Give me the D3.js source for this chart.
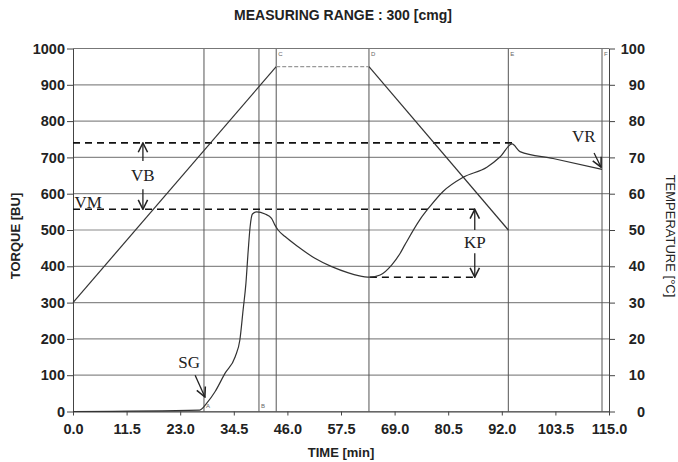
<!DOCTYPE html>
<html>
<head>
<meta charset="utf-8">
<script src="https://cdn.jsdelivr.net/npm/d3@7"></script>
<style>
  body { margin: 0; background: #fff; }
  svg { display: block; }
  .tick text { font-family: "Liberation Sans Narrow", "Arial Narrow", "Liberation Sans", sans-serif; font-weight: bold; font-size: 14.5px; fill: #222; }
  .axis-title { font-family: "Liberation Sans Narrow", "Arial Narrow", "Liberation Sans", sans-serif; font-weight: bold; fill: #222; }
  .mark-label { font-family: "Liberation Serif", "DejaVu Serif", serif; font-size: 17px; fill: #222; }
  .tiny { font-family: "Liberation Sans", sans-serif; font-size: 6px; fill: #666; }
</style>
</head>
<body>
<div id="chart"></div>
<script>
// tick values
const timeTicks = [0, 11.5, 23, 34.5, 46, 57.5, 69, 80.5, 92, 103.5, 115];
const torqueTicks = [0, 100, 200, 300, 400, 500, 600, 700, 800, 900, 1000];
const tempTicks = [0, 10, 20, 30, 40, 50, 60, 70, 80, 90, 100];

// viscosity (torque) curve
const torqueTime = [0, 27.2, 28.7, 30.5, 32.6, 34.8, 35.8, 36.5, 37.1, 37.6, 38.0, 38.5, 39.4, 41.2, 42.6, 43.3, 44.0, 45.5, 48.3, 51.9, 55.5, 59.1, 62.6, 63.7, 65.9, 68.4, 70.2, 71.2, 74.4, 76.6, 79.4, 83.7, 88.8, 91.6, 94.2, 95.9, 103.0, 113.5];
const torqueBU = [0, 4, 23, 55, 105, 151, 197, 280, 353, 445, 509, 544, 550, 544, 532, 514, 500, 482, 454, 422, 399, 382, 371, 370, 376, 404, 436, 459, 528, 565, 606, 645, 673, 701, 737, 716, 697, 667];

// temperature programme
const tempTime = [0, 43.6, 63.5, 93.4];
const tempC = [30, 95, 95, 50];

// vertical marker lines and their letters
const markerTimes = [28.1, 39.9, 43.6, 63.5, 93.4, 113.5];
const markerTop = ["", "", "C", "D", "E", "F"];
const markerBottom = ["A", "B", "", "", "", ""];

// characteristic levels [BU]
const levelVB = 740;
const levelVM = 557;
const levelKP = 370;
const timeVBEnd = 94.2;
const timeKP = 86.2;
const timeKPStart = 63.7;
const timeVB = 15.0;

const W = 678, H = 462;
const margin = { top: 48.5, right: 69, bottom: 50.5, left: 73 };

const svg = d3.select("#chart").append("svg")
    .attr("width", W)
    .attr("height", H);

const x = d3.scaleLinear().domain([0, 115]).range([margin.left, W - margin.right]);
const yL = d3.scaleLinear().domain([0, 1000]).range([H - margin.bottom, margin.top]);
const yR = d3.scaleLinear().domain([0, 100]).range([H - margin.bottom, margin.top]);

// arrow head
svg.append("defs").append("marker")
    .attr("id", "head")
    .attr("viewBox", "0 0 10 10")
    .attr("refX", 9).attr("refY", 5)
    .attr("markerWidth", 9).attr("markerHeight", 9)
    .attr("orient", "auto-start-reverse")
    .append("path")
    .attr("d", "M1,1 L9,5 L1,9")
    .attr("fill", "none")
    .attr("stroke", "#222")
    .attr("stroke-width", 1.3);

// horizontal grid
svg.append("g").selectAll("line")
    .data(torqueTicks)
    .join("line")
    .attr("x1", x(0)).attr("x2", x(115))
    .attr("y1", d => yL(d)).attr("y2", d => yL(d))
    .attr("stroke", "#8a8a8a")
    .attr("stroke-width", 1.2);

// vertical marker lines
svg.append("g").selectAll("line")
    .data(markerTimes)
    .join("line")
    .attr("x1", d => x(d)).attr("x2", d => x(d))
    .attr("y1", yL(1000)).attr("y2", yL(0))
    .attr("stroke", "#555")
    .attr("stroke-width", 1);

svg.append("g").selectAll("text")
    .data(markerTimes)
    .join("text")
    .attr("class", "tiny")
    .attr("x", d => x(d) + 2)
    .attr("y", yL(1000) + 7)
    .text((d, i) => markerTop[i]);

svg.append("g").selectAll("text")
    .data(markerTimes)
    .join("text")
    .attr("class", "tiny")
    .attr("x", d => x(d) + 2)
    .attr("y", yL(0) - 4)
    .text((d, i) => markerBottom[i]);

// axes
const axL = svg.append("g")
    .attr("transform", `translate(${x(0)},0)`)
    .call(d3.axisLeft(yL).tickValues(torqueTicks).tickFormat(d3.format("d")).tickSize(6).tickSizeOuter(0).tickPadding(2));

const axR = svg.append("g")
    .attr("transform", `translate(${x(115)},0)`)
    .call(d3.axisRight(yR).tickValues(tempTicks).tickFormat(d3.format("d")).tickSize(6).tickSizeOuter(0).tickPadding(30));
axR.selectAll(".tick text").attr("text-anchor", "end").attr("x", 36);

const axB = svg.append("g")
    .attr("transform", `translate(0,${yL(0)})`)
    .call(d3.axisBottom(x).tickValues(timeTicks).tickFormat(d3.format(".1f")).tickSize(4).tickSizeOuter(0).tickPadding(8));

svg.append("line")
    .attr("x1", x(0)).attr("x2", x(115))
    .attr("y1", yL(1000)).attr("y2", yL(1000))
    .attr("stroke", "#777");

[axL, axR, axB].forEach(a => {
    a.selectAll("path, line").attr("stroke", "#444");
});

// dashed reference levels
const dashed = [
    [0, levelVB, timeVBEnd, levelVB],
    [0, levelVM, timeKP, levelVM],
    [timeKPStart, levelKP, timeKP, levelKP]
];
svg.append("g").selectAll("line")
    .data(dashed)
    .join("line")
    .attr("x1", d => x(d[0])).attr("y1", d => yL(d[1]))
    .attr("x2", d => x(d[2])).attr("y2", d => yL(d[3]))
    .attr("stroke", "#111")
    .attr("stroke-width", 1.6)
    .attr("stroke-dasharray", "7,5");

// temperature line
const tempPts = tempTime.map((t, i) => [t, tempC[i]]);
const tempLine = d3.line().x(d => x(d[0])).y(d => yR(d[1]));
svg.append("path")
    .attr("d", tempLine([tempPts[0], tempPts[1]]))
    .attr("fill", "none").attr("stroke", "#333").attr("stroke-width", 1.2);
svg.append("path")
    .attr("d", tempLine([tempPts[1], tempPts[2]]))
    .attr("fill", "none").attr("stroke", "#999").attr("stroke-width", 1.2)
    .attr("stroke-dasharray", "4,2");
svg.append("path")
    .attr("d", tempLine([tempPts[2], tempPts[3]]))
    .attr("fill", "none").attr("stroke", "#333").attr("stroke-width", 1.2);

// torque curve
const torquePts = torqueTime.map((t, i) => [t, torqueBU[i]]);
svg.append("path")
    .attr("d", d3.line().x(d => x(d[0])).y(d => yL(d[1])).curve(d3.curveMonotoneX)(torquePts))
    .attr("fill", "none")
    .attr("stroke", "#333")
    .attr("stroke-width", 1.2);

// arrows
const arrows = [
    [timeVB, 690, timeVB, levelVB],
    [timeVB, 612, timeVB, levelVM],
    [timeKP, 500, timeKP, levelVM],
    [timeKP, 436, timeKP, levelKP],
    [26.2, 100, 28.3, 40],
    [111.8, 712, 113.3, 673]
];
svg.append("g").selectAll("line")
    .data(arrows)
    .join("line")
    .attr("x1", d => x(d[0])).attr("y1", d => yL(d[1]))
    .attr("x2", d => x(d[2])).attr("y2", d => yL(d[3]))
    .attr("stroke", "#222")
    .attr("stroke-width", 1.3)
    .attr("marker-end", "url(#head)");

// labels
const labels = [
    ["VB", timeVB, 651, "middle"],
    ["KP", timeKP, 467, "middle"],
    ["SG", 24.9, 136, "middle"],
    ["VR", 109.6, 759, "middle"],
    ["VM", 0.3, 578, "start"]
];
svg.append("g").selectAll("text")
    .data(labels)
    .join("text")
    .attr("class", "mark-label")
    .attr("x", d => x(d[1]))
    .attr("y", d => yL(d[2]))
    .attr("dy", "0.35em")
    .attr("text-anchor", d => d[3])
    .text(d => d[0]);

// titles
svg.append("text")
    .attr("class", "axis-title")
    .attr("x", 343).attr("y", 20)
    .attr("text-anchor", "middle")
    .attr("font-size", 14)
    .text("MEASURING RANGE : 300 [cmg]");

svg.append("text")
    .attr("class", "axis-title")
    .attr("x", 341).attr("y", 457)
    .attr("text-anchor", "middle")
    .attr("font-size", 13)
    .text("TIME  [min]");

svg.append("text")
    .attr("class", "axis-title")
    .attr("transform", `translate(20,236) rotate(-90)`)
    .attr("text-anchor", "middle")
    .attr("font-size", 13)
    .text("TORQUE  [BU]");

svg.append("text")
    .attr("transform", `translate(666,236) rotate(90)`)
    .attr("text-anchor", "middle")
    .attr("font-family", "Liberation Sans, sans-serif")
    .attr("font-size", 13)
    .attr("fill", "#222")
    .text("TEMPERATURE  [°C]");
</script>
</body>
</html>
